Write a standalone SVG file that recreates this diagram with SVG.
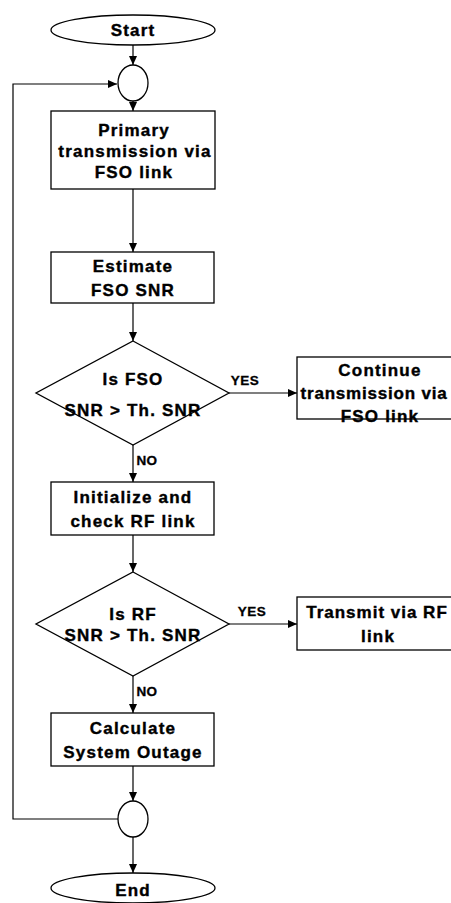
<svg xmlns="http://www.w3.org/2000/svg" width="451" height="903" viewBox="0 0 451 903">
<defs>
<marker id="ah" markerWidth="10" markerHeight="10" refX="9" refY="5" orient="auto" markerUnits="userSpaceOnUse">
<path d="M0,1 L9,5 L0,9 Z" fill="#000"/>
</marker>
<style>
.s{fill:#fff;stroke:#000;stroke-width:1.3}
.t{font-family:"Liberation Sans",Arial,sans-serif;font-weight:bold;font-size:17px;text-anchor:middle;dominant-baseline:central;letter-spacing:1.2px;fill:#000;stroke:#000;stroke-width:0.4}
.l{font-family:"Liberation Sans",Arial,sans-serif;font-weight:bold;font-size:13.5px;text-anchor:middle;dominant-baseline:central;letter-spacing:0.5px;fill:#000;stroke:#000;stroke-width:0.3}
.c{fill:none;stroke:#000;stroke-width:1.2;marker-end:url(#ah)}
</style>
</defs>
<g id="connectors">
<line class="c" x1="133" y1="45" x2="133" y2="65"/>
<line class="c" x1="133" y1="101" x2="133" y2="111"/>
<line class="c" x1="133" y1="189" x2="133" y2="252"/>
<line class="c" x1="133" y1="303" x2="133" y2="341"/>
<line class="c" x1="229" y1="393" x2="297" y2="393"/>
<line class="c" x1="133" y1="445" x2="133" y2="482"/>
<line class="c" x1="133" y1="535" x2="133" y2="572"/>
<line class="c" x1="229" y1="624" x2="297" y2="624"/>
<line class="c" x1="133" y1="676" x2="133" y2="713"/>
<line class="c" x1="133" y1="766" x2="133" y2="801"/>
<line class="c" x1="133" y1="837" x2="133" y2="873"/>
<polyline class="c" points="118,819 13,819 13,84 117,84"/>
<text class="l" x="245" y="380">YES</text>
<text class="l" x="252" y="611">YES</text>
<text class="l" x="147" y="460">NO</text>
<text class="l" x="147" y="691">NO</text>
</g>
<g id="start">
<ellipse class="s" cx="133" cy="30" rx="82" ry="15"/>
<text class="t" x="133" y="30">Start</text>
</g>
<g id="merge1">
<ellipse class="s" cx="133" cy="83" rx="15" ry="18"/>
</g>
<g id="primary">
<rect class="s" x="51" y="111" width="164" height="78"/>
<text class="t" x="134" y="130">Primary</text>
<text class="t" x="135" y="151">transmission via</text>
<text class="t" x="134" y="172">FSO link</text>
</g>
<g id="estimate">
<rect class="s" x="51" y="252" width="163" height="51"/>
<text class="t" x="133" y="266">Estimate</text>
<text class="t" x="133" y="290">FSO SNR</text>
</g>
<g id="dec1">
<polygon class="s" points="133,341 229,393 133,445 36,393"/>
<text class="t" x="133" y="379">Is FSO</text>
<text class="t" x="133" y="410">SNR &gt; Th. SNR</text>
</g>
<g id="continue">
<rect class="s" x="297" y="357" width="160" height="62"/>
<text class="t" x="380" y="370">Continue</text>
<text class="t" x="374" y="393" style="letter-spacing:0.8px">transmission via</text>
<text class="t" x="380" y="416">FSO link</text>
</g>
<g id="init">
<rect class="s" x="51" y="482" width="163" height="53"/>
<text class="t" x="133" y="497">Initialize and</text>
<text class="t" x="133" y="521">check RF link</text>
</g>
<g id="dec2">
<polygon class="s" points="133,572 229,624 133,676 36,624"/>
<text class="t" x="133" y="614">Is RF</text>
<text class="t" x="133" y="635">SNR &gt; Th. SNR</text>
</g>
<g id="rf">
<rect class="s" x="297" y="597" width="160" height="53"/>
<text class="t" x="377" y="612" style="letter-spacing:1px">Transmit via RF</text>
<text class="t" x="378" y="636">link</text>
</g>
<g id="outage">
<rect class="s" x="51" y="713" width="163" height="53"/>
<text class="t" x="133" y="728">Calculate</text>
<text class="t" x="133" y="752">System Outage</text>
</g>
<g id="merge2">
<ellipse class="s" cx="133" cy="819" rx="15" ry="18"/>
</g>
<g id="end">
<ellipse class="s" cx="133" cy="888" rx="82" ry="15"/>
<text class="t" x="133" y="890">End</text>
</g>
</svg>
